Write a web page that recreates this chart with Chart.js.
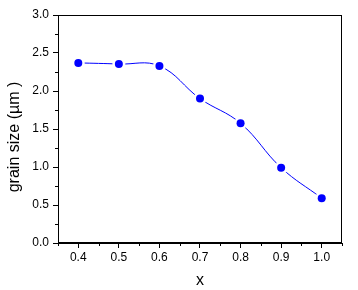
<!DOCTYPE html>
<html>
<head>
<meta charset="utf-8">
<script src="https://cdn.jsdelivr.net/npm/chart.js@4/dist/chart.umd.min.js"></script>
<style>
  body { margin: 0; background: #fff; }
  #wrap { width: 358px; height: 290px; }
</style>
</head>
<body>
<div id="wrap"><canvas id="grainChart"></canvas></div>
<script>
const xValues = [0.4, 0.5, 0.6, 0.7, 0.8, 0.9, 1.0];
const grainSize = [2.37, 2.355, 2.33, 1.90, 1.575, 0.99, 0.59];
const xTicks = [0.4, 0.5, 0.6, 0.7, 0.8, 0.9, 1.0];
const xMinorTicks = [0.35, 0.45, 0.55, 0.65, 0.75, 0.85, 0.95, 1.05];
const yTicks = [0.0, 0.5, 1.0, 1.5, 2.0, 2.5, 3.0];
const yMinorTicks = [0.25, 0.75, 1.25, 1.75, 2.25, 2.75];
const yTitle = 'grain size (µm )';

const points = xValues.map((x, i) => ({ x: x, y: grainSize[i] }));
const FONT = 'Liberation Sans, Arial, sans-serif';

// frame round the plot, short minor ticks, and the y title (sits a bit below centre)
const framePlugin = {
    id: 'frame',
    afterDraw(chart) {
        const { ctx, chartArea: a, scales } = chart;
        ctx.save();
        ctx.strokeStyle = '#000';
        ctx.lineWidth = 1;
        ctx.strokeRect(Math.round(a.left) + 0.5, Math.round(a.top) + 0.5,
            Math.round(a.right - a.left) - 1, Math.round(a.bottom - a.top) - 1);
        ctx.beginPath();
        xMinorTicks.forEach(v => {
            const px = Math.round(scales.x.getPixelForValue(v)) + 0.5;
            ctx.moveTo(px, a.bottom);
            ctx.lineTo(px, a.bottom + 3);
        });
        yMinorTicks.forEach(v => {
            const py = Math.round(scales.y.getPixelForValue(v)) + 0.5;
            ctx.moveTo(a.left, py);
            ctx.lineTo(a.left - 3, py);
        });
        ctx.stroke();

        ctx.translate(15, (a.top + a.bottom) / 2 + 8);
        ctx.rotate(-Math.PI / 2);
        ctx.fillStyle = '#000';
        ctx.font = '16px ' + FONT;
        ctx.textAlign = 'center';
        ctx.textBaseline = 'middle';
        ctx.fillText(yTitle, 0, 0);
        ctx.restore();
    }
};

new Chart(document.getElementById('grainChart'), {
    type: 'scatter',
    data: {
        datasets: [{
            // markers
            data: points,
            showLine: false,
            pointRadius: 4,
            pointBackgroundColor: '#0000ff',
            pointBorderWidth: 0,
            pointHoverRadius: 4
        }, {
            // smooth line, white disc under each marker leaves a gap
            data: points,
            showLine: true,
            borderColor: '#0000ff',
            borderWidth: 1,
            tension: 0.4,
            pointRadius: 6.5,
            pointBackgroundColor: '#ffffff',
            pointBorderWidth: 0
        }]
    },
    options: {
        responsive: true,
        maintainAspectRatio: false,
        animation: false,
        layout: { padding: { top: 15, right: 16, left: 0, bottom: 0 } },
        plugins: { legend: { display: false }, tooltip: { enabled: false } },
        scales: {
            x: {
                type: 'linear',
                min: 0.35,
                max: 1.05,
                afterBuildTicks: s => { s.ticks = xTicks.map(v => ({ value: v })); },
                afterFit: s => { s.height = 47; },
                border: { color: '#000', width: 1 },
                grid: { drawOnChartArea: false, color: '#000', tickLength: 5 },
                ticks: {
                    color: '#000',
                    padding: 2,
                    font: { family: FONT, size: 12 },
                    callback: v => v.toFixed(1)
                },
                title: {
                    display: true,
                    text: 'x',
                    color: '#000',
                    padding: 0,
                    font: { family: FONT, size: 16 }
                }
            },
            y: {
                min: 0,
                max: 3,
                afterBuildTicks: s => { s.ticks = yTicks.map(v => ({ value: v })); },
                afterFit: s => { s.width = 58; },
                border: { color: '#000', width: 1 },
                grid: { drawOnChartArea: false, color: '#000', tickLength: 5 },
                ticks: {
                    color: '#000',
                    padding: 4,
                    font: { family: FONT, size: 12 },
                    callback: v => v.toFixed(1)
                }
            }
        }
    },
    plugins: [framePlugin]
});
</script>
</body>
</html>
